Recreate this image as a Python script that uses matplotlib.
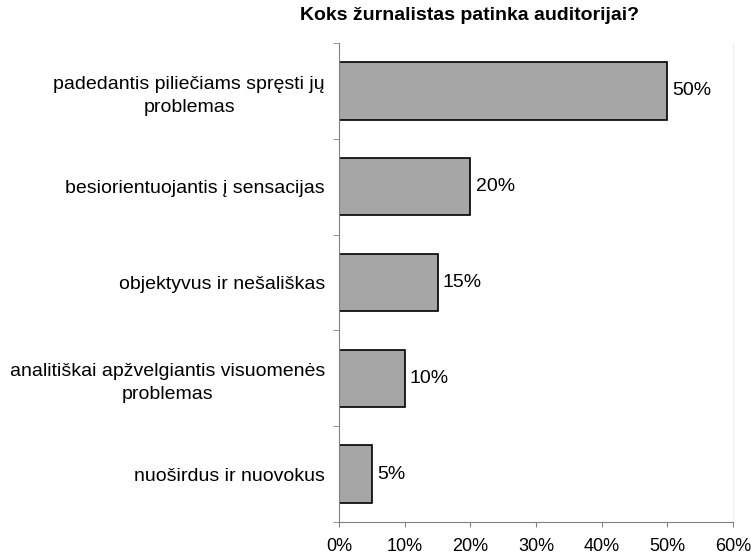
import numpy as np
import matplotlib
matplotlib.use('Agg')
import matplotlib.pyplot as plt
from matplotlib.ticker import FuncFormatter, FixedLocator

plt.rcParams['font.family'] = ['Liberation Sans', 'DejaVu Sans']

judul = 'Koks žurnalistas patinka auditorijai?'
kategori = ['padedantis piliečiams spręsti jų\nproblemas',
            'besiorientuojantis į sensacijas',
            'objektyvus ir nešališkas',
            'analitiškai apžvelgiantis visuomenės\nproblemas',
            'nuoširdus ir nuovokus']
nilai = [50, 20, 15, 10, 5]
xticks = [0, 10, 20, 30, 40, 50, 60]

fig = plt.figure(figsize=(7.51, 5.55), dpi=100)
ax = fig.add_axes([339/751, 1 - 522/555, (733 - 339)/751, (522 - 43)/555])

ypos = np.arange(len(kategori))[::-1]
bars = ax.barh(ypos, nilai, height=0.6, color='#a6a6a6', edgecolor='black', linewidth=1.2)

for b, v in zip(bars, nilai):
    ax.text(b.get_width() + 0.8, b.get_y() + b.get_height() / 2, '{0}%'.format(v),
            va='center', ha='left', fontsize=14)

ax.set_xlim(0, 60)
ax.set_ylim(-0.5, len(kategori) - 0.5)
ax.set_xticks(xticks)
ax.xaxis.set_major_formatter(FuncFormatter(lambda x, p: '{0:.0f}%'.format(x)))
ax.set_yticks(ypos)
ax.set_yticklabels(kategori, ha='right', multialignment='center', linespacing=1.45)
ax.yaxis.set_minor_locator(FixedLocator(np.arange(-0.5, len(kategori), 1.0)))

ax.tick_params(axis='y', which='major', length=0, pad=10, labelsize=14)
ax.tick_params(axis='y', which='minor', length=4.5, color='#808080', direction='out')
ax.tick_params(axis='x', length=3.5, color='#808080', direction='out', labelsize=13, pad=8)

for s in ['left', 'bottom']:
    ax.spines[s].set_color('#808080')
ax.spines['top'].set_visible(False)
ax.spines['right'].set_color('#eeeeee')

fig.text(470/751, 1 - 16/555, judul, ha='center', va='center', fontsize=14, fontweight='bold')

fig.savefig('out.png', dpi=100)
plt.close(fig)
